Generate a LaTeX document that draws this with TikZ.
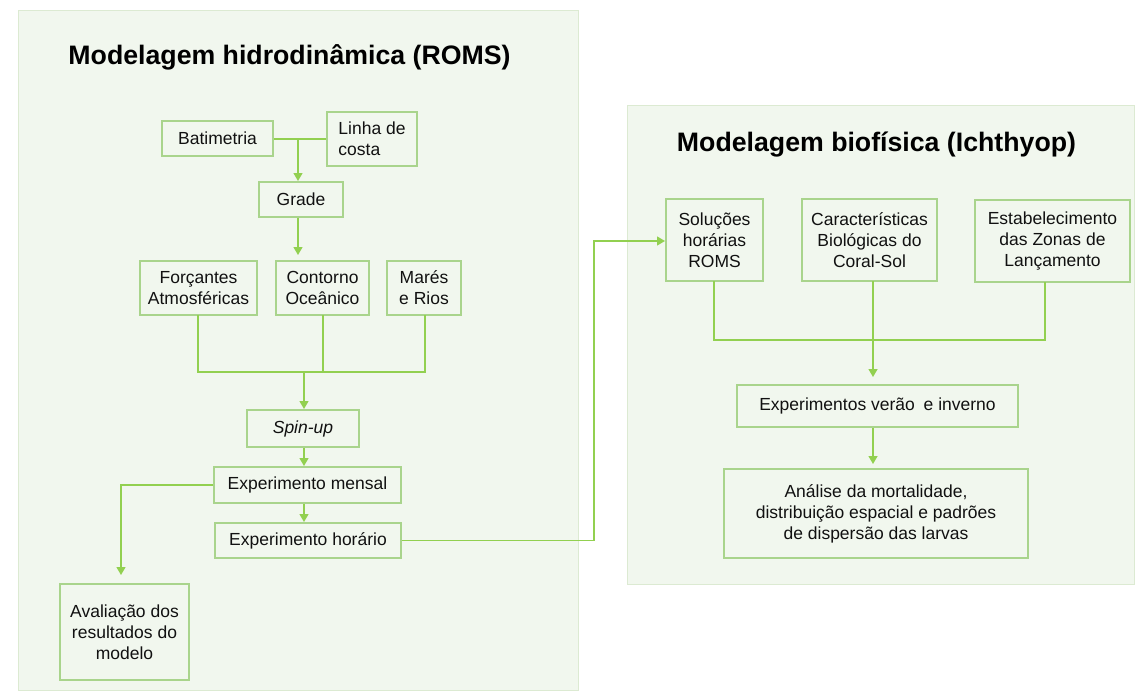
\documentclass[tikz,border=0pt]{standalone}
\usepackage{fontspec}
\setmainfont{Liberation Sans}
\usetikzlibrary{arrows.meta,calc}
\definecolor{panelfill}{HTML}{F1F7EE}
\definecolor{paneldraw}{HTML}{DCEAD2}
\definecolor{boxdraw}{HTML}{A9D48C}
\definecolor{linkcol}{HTML}{92D050}
\definecolor{txt}{HTML}{111111}
\tikzset{
  panel/.style={fill=panelfill,draw=paneldraw,line width=1pt},
  box/.style={draw=boxdraw,line width=2pt,fill=panelfill,text=txt,inner sep=0pt,
    align=center,font=\fontsize{17.5}{21}\selectfont},
  ttl/.style={text=black,font=\fontsize{26.7}{30}\selectfont\bfseries,inner sep=0pt},
  link/.style={draw=linkcol,line width=1.3pt},
  arr/.style={link,-{Triangle[length=8pt,width=9pt]}},
}
\newcommand{\bx}[6]{\node[box,minimum width=#3pt,minimum height=#4pt] (#1) at (#2) {#5};}
\begin{document}
\begin{tikzpicture}[x=1pt,y=-1pt]
\useasboundingbox (0,0) rectangle (1135,691);
\fill[white] (0,0) rectangle (1135,691);
\draw[panel] (18,10) rectangle (578,690);
\draw[panel] (627,105) rectangle (1134,584);
\node[ttl] (t1) at (289.5,57) {Modelagem hidrodinâmica (ROMS)};
\node[ttl] (t2) at (876.5,145) {Modelagem biofísica (Ichthyop)};
% left boxes
\node[box,minimum width=111pt,minimum height=35pt] (bat) at (217.5,138.5) {Batimetria};
\node[box,minimum width=90pt,minimum height=54pt,align=left] (lin) at (372,139) {Linha de\\costa};
\node[box,minimum width=84pt,minimum height=35pt] (grade) at (301,199.5) {Grade};
\node[box,minimum width=117pt,minimum height=54pt] (forc) at (198.5,288) {Forçantes\\Atmosféricas};
\node[box,minimum width=93pt,minimum height=54pt] (cont) at (322.5,288) {Contorno\\Oceânico};
\node[box,minimum width=74pt,minimum height=54pt] (mares) at (424,288) {Marés\\e Rios};
\node[box,minimum width=112pt,minimum height=37pt] (spin) at (303,428.5) {\itshape Spin-up};
\node[box,minimum width=187pt,minimum height=36pt] (mensal) at (307.5,485) {Experimento mensal};
\node[box,minimum width=186pt,minimum height=35pt] (horario) at (308,540.5) {Experimento horário};
\node[box,minimum width=129pt,minimum height=96pt] (aval) at (124.5,632) {Avaliação dos\\resultados do\\modelo};
% right boxes
\node[box,minimum width=97pt,minimum height=82pt] (sol) at (714.5,240) {Soluções\\horárias\\ROMS};
\node[box,minimum width=135pt,minimum height=82pt] (car) at (869.5,240) {Características\\Biológicas do\\Coral-Sol};
\node[box,minimum width=155pt,minimum height=82pt] (est) at (1052.5,241) {Estabelecimento\\das Zonas de\\Lançamento};
\node[box,minimum width=281pt,minimum height=42pt] (exp) at (877.5,406) {Experimentos verão\hspace{0.5em}e inverno};
\node[box,minimum width=304pt,minimum height=89pt] (ana) at (876,513.5) {Análise da mortalidade,\\distribuição espacial e padrões\\de dispersão das larvas};
% connector coordinates
\coordinate (j1) at (298,139);
\coordinate (g1) at (298,255);
\coordinate (j2) at (304,372);
\coordinate (a1) at (121,575);
\coordinate (r1) at (594,241);
\coordinate (j3) at (873,340);
\coordinate (e1) at (873,377);
\coordinate (e2) at (873,464);
% left connectors
\draw[link] (bat.east |- j1) -- (lin.west |- j1);
\draw[arr] (j1) -- (j1 |- grade.north);
\draw[arr] (j1 |- grade.south) -- (g1);
\draw[link] (198,315) -- (198,372) -- (425,372) -- (425,315);
\draw[link] (323,315) -- (323,372);
\draw[arr] (j2) -- (j2 |- spin.north);
\draw[arr] (j2 |- spin.south) -- (j2 |- mensal.north);
\draw[arr] (j2 |- mensal.south) -- (j2 |- horario.north);
\draw[arr] (mensal.west) -| (a1);
\draw[arr] (horario.east) -| (r1) -- (sol.west |- r1);
% right connectors
\draw[link] (714,281) -- (714,340) -- (1045,340) -- (1045,282);
\draw[link] (873,281) -- (j3);
\draw[arr] (j3) -- (e1);
\draw[arr] (exp.south -| e2) -- (e2);
\end{tikzpicture}
\end{document}
